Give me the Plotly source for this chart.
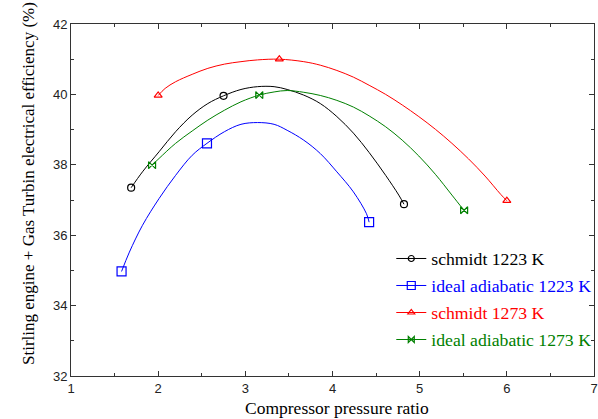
import plotly.graph_objects as go

# ---- data ----
# marker positions (the plotted data points)
s1223_mx = [1.69, 2.75, 4.82]
s1223_my = [37.35, 39.96, 36.88]
i1223_mx = [1.58, 2.56, 4.42]
i1223_my = [34.97, 38.61, 36.37]
s1273_mx = [2.00, 3.39, 6.00]
s1273_my = [39.97, 41.00, 36.98]
i1273_mx = [1.93, 3.16, 5.51]
i1273_my = [37.99, 39.98, 36.71]

# traced points along each drawn curve
s1223_lx = [1.69, 1.82, 2.01, 2.20, 2.39, 2.57, 2.75, 2.95, 3.14, 3.33, 3.48, 3.67, 3.86, 4.05, 4.24, 4.42, 4.61, 4.76, 4.82]
s1223_ly = [37.35, 37.80, 38.37, 38.94, 39.41, 39.74, 39.96, 40.14, 40.22, 40.22, 40.14, 39.98, 39.74, 39.37, 38.90, 38.35, 37.70, 37.14, 36.88]
i1223_lx = [1.58, 1.67, 1.82, 2.01, 2.20, 2.39, 2.56, 2.76, 2.95, 3.14, 3.33, 3.48, 3.67, 3.86, 4.05, 4.24, 4.39, 4.42]
i1223_ly = [34.97, 35.52, 36.28, 37.04, 37.70, 38.27, 38.61, 38.94, 39.15, 39.20, 39.15, 38.98, 38.70, 38.32, 37.80, 37.23, 36.61, 36.37]
s1273_lx = [2.00, 2.08, 2.20, 2.39, 2.57, 2.76, 2.95, 3.14, 3.39, 3.67, 3.86, 4.05, 4.24, 4.42, 4.61, 4.80, 4.99, 5.18, 5.37, 5.56, 5.75, 5.93, 6.00]
s1273_ly = [39.97, 40.17, 40.36, 40.57, 40.74, 40.86, 40.93, 40.98, 41.00, 40.93, 40.83, 40.68, 40.49, 40.26, 40.00, 39.70, 39.37, 39.01, 38.61, 38.17, 37.68, 37.16, 36.98]
i1273_lx = [1.93, 2.01, 2.20, 2.39, 2.57, 2.76, 2.95, 3.16, 3.33, 3.48, 3.67, 3.86, 4.05, 4.24, 4.42, 4.61, 4.80, 4.99, 5.18, 5.37, 5.51]
i1273_ly = [37.99, 38.18, 38.61, 38.96, 39.27, 39.55, 39.79, 39.98, 40.07, 40.11, 40.06, 39.97, 39.83, 39.64, 39.39, 39.08, 38.70, 38.25, 37.73, 37.14, 36.70]

names = ["schmidt 1223 K", "ideal adiabatic 1223 K", "schmidt 1273 K", "ideal adiabatic 1273 K"]
colors = ["#000000", "#0000ff", "#ff0000", "#008000"]
symbols = ["circle-open", "square-open", "triangle-up-open", "bowtie-open"]
msizes = [7, 9, 7, 7]

x_ticks = [1, 2, 3, 4, 5, 6, 7]
y_ticks = [32, 34, 36, 38, 40, 42]

series = [
    (s1223_lx, s1223_ly, s1223_mx, s1223_my),
    (i1223_lx, i1223_ly, i1223_mx, i1223_my),
    (s1273_lx, s1273_ly, s1273_mx, s1273_my),
    (i1273_lx, i1273_ly, i1273_mx, i1273_my),
]

SERIF = "Liberation Serif"

fig = go.Figure()
for i, (lx, ly, mx, my) in enumerate(series):
    grp = "g%d" % i
    fig.add_trace(go.Scatter(x=lx, y=ly, mode="lines", line=dict(color=colors[i], width=1, shape="spline"),
                             showlegend=False, legendgroup=grp, hoverinfo="skip"))
    fig.add_trace(go.Scatter(x=mx, y=my, mode="markers",
                             marker=dict(symbol=symbols[i], size=msizes[i], color=colors[i], line=dict(width=1.2, color=colors[i])),
                             showlegend=False, legendgroup=grp))
    fig.add_trace(go.Scatter(x=[None], y=[None], mode="lines+markers",
                             line=dict(color=colors[i], width=1),
                             marker=dict(symbol=symbols[i], size=msizes[i] - 1, color=colors[i], line=dict(width=1.2, color=colors[i])),
                             name="<span style='color:%s'>%s</span>" % (colors[i], names[i]),
                             legendgroup=grp, showlegend=True))

axis_common = dict(
    showline=True, linecolor="#333333", linewidth=1, mirror="allticks",
    ticks="inside", ticklen=5, tickcolor="#333333", showgrid=False, zeroline=False,
    tickfont=dict(family="Liberation Sans", size=13, color="#222222"),
    ticklabeloverflow="allow",
)

fig.update_layout(
    width=598, height=419,
    margin=dict(l=71, r=0, t=24, b=43),
    paper_bgcolor="white", plot_bgcolor="white",
    xaxis=dict(range=[1, 7], tickvals=x_ticks,
               minor=dict(dtick=0.5, ticks="inside", ticklen=3, tickcolor="#333333"), **axis_common),
    yaxis=dict(range=[32, 42], tickvals=y_ticks,
               minor=dict(dtick=1, ticks="inside", ticklen=3, tickcolor="#333333"), **axis_common),
    legend=dict(x=0.6124, y=0.385, xanchor="left", yanchor="top", bgcolor="rgba(0,0,0,0)",
                font=dict(family=SERIF, size=17.7),
                traceorder="grouped", tracegroupgap=1),
    annotations=[
        dict(text="Compressor pressure ratio", xref="paper", yref="paper", x=0.5, y=0,
             xshift=4, yshift=-32, xanchor="center", yanchor="middle", showarrow=False,
             font=dict(family=SERIF, size=17.5, color="#000000")),
        dict(text="Stirling engine + Gas Turbin electrical efficiency (%)", xref="paper", yref="paper",
             x=0, xshift=-42, y=0.5455, xanchor="center", yanchor="middle", textangle=-90, showarrow=False,
             font=dict(family=SERIF, size=17, color="#000000")),
    ],
)

fig.write_html("out.html", config={"displayModeBar": False},
               post_script="document.body.style.margin='0';document.body.style.overflow='hidden';")
